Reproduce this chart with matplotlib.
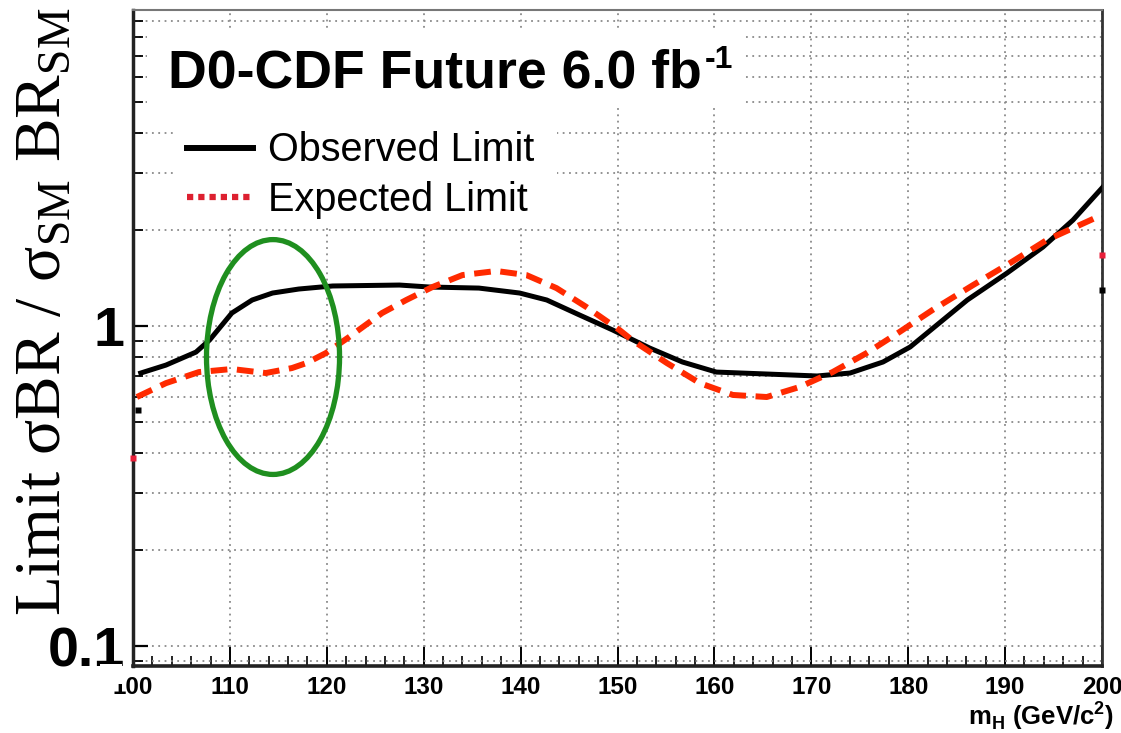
import matplotlib
matplotlib.use("Agg")
import matplotlib.pyplot as plt
from matplotlib.lines import Line2D
from matplotlib.patches import Ellipse, Rectangle
from matplotlib.ticker import LogLocator, NullFormatter, FixedLocator, MultipleLocator

plt.rcParams['font.family'] = ['Liberation Sans', 'DejaVu Sans']
plt.rcParams['mathtext.fontset'] = 'custom'
plt.rcParams['mathtext.rm'] = 'Liberation Serif'
plt.rcParams['mathtext.sf'] = 'Liberation Sans'
plt.rcParams['mathtext.bf'] = 'Liberation Sans:bold'

# observed limit
obs_mass = [100.8, 103.4, 106.5, 107.9, 110.2, 112.3, 114.4, 117.1, 120.6, 127.5,
            130.6, 135.7, 139.9, 142.7, 146.1, 149.5, 153.3, 156.7, 160.2, 165.4,
            170.6, 174.0, 177.4, 180.2, 186.1, 190.2, 193.9, 197.0, 200.0]
obs_limit = [0.713, 0.755, 0.829, 0.904, 1.098, 1.206, 1.268, 1.305, 1.334, 1.343,
             1.324, 1.314, 1.268, 1.206, 1.082, 0.972, 0.854, 0.772, 0.718, 0.708,
             0.698, 0.713, 0.772, 0.860, 1.206, 1.464, 1.765, 2.143, 2.70]

# expected limit
exp_mass = [100.4, 103.4, 106.8, 110.2, 113.7, 116.4, 117.9, 119.9, 122.3, 125.7,
            128.2, 130.9, 134.0, 137.5, 140.6, 143.7, 146.8, 150.2, 151.5, 155.1,
            158.5, 161.9, 165.4, 168.8, 172.2, 175.7, 179.1, 182.5, 186.7, 190.5,
            194.3, 199.5]
exp_limit = [0.600, 0.663, 0.718, 0.734, 0.713, 0.739, 0.766, 0.823, 0.924, 1.098,
             1.206, 1.324, 1.443, 1.486, 1.443, 1.314, 1.146, 0.972, 0.904, 0.766,
             0.663, 0.609, 0.600, 0.645, 0.718, 0.823, 0.958, 1.122, 1.343, 1.573,
             1.857, 2.19]

# little stray marks sitting on the frame
edge_red_x = [100.0, 200.0]
edge_red_y = [0.387, 1.667]
edge_blk_x = [100.5, 200.0]
edge_blk_y = [0.546, 1.296]

xticks = [100, 110, 120, 130, 140, 150, 160, 170, 180, 190, 200]
yticks = [0.1, 1]
ytick_labels = ['0.1', '1']

red = '#ff2a00'

fig = plt.figure(figsize=(11.21, 7.33), dpi=100)
ax = fig.add_axes([133 / 1121, 67 / 733, 969 / 1121, 656 / 733])
ax.set_yscale('log')
ax.set_xlim(100, 200)
ax.set_ylim(0.0866, 9.72)

ax.plot(obs_mass, obs_limit, color='black', lw=3.6, zorder=4, solid_joinstyle='round')
ax.plot(exp_mass, exp_limit, color=red, lw=4.3, ls=(0, (2.8, 1.6)), zorder=4)
ax.plot(edge_red_x, edge_red_y, ls='none', marker='s', ms=4, color='#e8203a',
        mec='none', clip_on=False, zorder=5)
ax.plot(edge_blk_x, edge_blk_y, ls='none', marker='s', ms=4, color='black',
        mec='none', clip_on=False, zorder=5)

# grid and ticks
ax.set_axisbelow(True)
ax.xaxis.set_ticks_position('bottom')
ax.yaxis.set_ticks_position('left')
ax.xaxis.set_major_locator(FixedLocator(xticks))
ax.xaxis.set_minor_locator(MultipleLocator(2))
ax.set_xticklabels([str(t) for t in xticks])
ax.yaxis.set_major_locator(FixedLocator(yticks))
ax.set_yticklabels(ytick_labels)
ax.yaxis.set_minor_locator(LogLocator(base=10, subs=[2, 3, 4, 5, 6, 7, 8, 9]))
ax.yaxis.set_minor_formatter(NullFormatter())
gstyle = dict(color='#8a8a8a', lw=1.3, ls=(0, (1, 2.5)))
ax.grid(True, which='major', axis='x', **gstyle)
ax.grid(True, which='both', axis='y', **gstyle)

ax.tick_params(axis='x', which='major', direction='in', length=14, width=1.4,
               labelsize=17.5, pad=7)
ax.tick_params(axis='x', which='minor', direction='in', length=7, width=1.2)
ax.tick_params(axis='y', which='major', direction='in', length=11, width=1.6,
               labelsize=40, pad=6)
ax.tick_params(axis='y', which='minor', direction='in', length=7, width=1.3)
for lab in ax.get_yticklabels():
    lab.set_fontweight('bold')
for lab in ax.get_xticklabels():
    lab.set_fontweight('bold')

for side, lw, col in [('left', 2.5, '#222222'), ('bottom', 2.6, '#222222'),
                      ('right', 2.0, '#333333'), ('top', 1.5, '#777777')]:
    ax.spines[side].set_linewidth(lw)
    ax.spines[side].set_color(col)

# white boxes behind title and legend
ax.add_patch(Rectangle((0.0144, 0.855), 0.614, 0.118, transform=ax.transAxes,
                       fc='white', ec='none', zorder=2))
ax.add_patch(Rectangle((0.0433, 0.668), 0.394, 0.187, transform=ax.transAxes,
                       fc='white', ec='none', zorder=2))

title = ax.text(0.036, (666 - 87) / 656, 'D0-CDF Future 6.0 fb', transform=ax.transAxes,
                fontsize=38.6, fontweight='bold', va='baseline', ha='left', zorder=6)
ax.annotate('-1', xy=(1, 1), xycoords=title, xytext=(2, 2), textcoords='offset points',
            fontsize=23, fontweight='bold', va='top', ha='left', zorder=6)

handles = [Line2D([], [], color='black', lw=4.3),
           Line2D([], [], color='#dd2030', lw=4.5, ls=(0, (1.0, 0.8)))]
leg = ax.legend(handles, ['Observed Limit', 'Expected Limit'], loc='upper left',
                bbox_to_anchor=(0.0557, 0.815), frameon=False, fontsize=28.5,
                handlelength=1.67, handletextpad=0.38, labelspacing=0.3,
                borderaxespad=0, borderpad=0)
leg.set_zorder(6)

ellipse = Ellipse((0.1445, 0.471), 0.1373, 0.358, transform=ax.transAxes,
                  fill=False, ec='#1f8f1f', lw=3.8, zorder=7)
ax.add_patch(ellipse)

ax.set_xlabel(r'm$_{\mathbf{H}}$ (GeV/c$^{\mathbf{2}}$)', fontsize=18.5, fontweight='bold',
              ha='right', va='bottom')
ax.xaxis.set_label_coords(1.012, -0.1005)
ax.set_ylabel(r'Limit σBR / σ$_{\mathrm{SM}}$ BR$_{\mathrm{SM}}$',
              family=['Liberation Serif', 'DejaVu Serif'], fontsize=47, va='center')
ax.yaxis.set_label_coords(-0.091, 0.54)

# the "1" of the first tick label is mostly hidden in the original
fig.patches.append(Rectangle((100 / 1121, (733 - 684) / 733), 22 / 1121, 20 / 733,
                             transform=fig.transFigure, fc='white', ec='none',
                             zorder=10))

fig.savefig('out.png', dpi=100)
